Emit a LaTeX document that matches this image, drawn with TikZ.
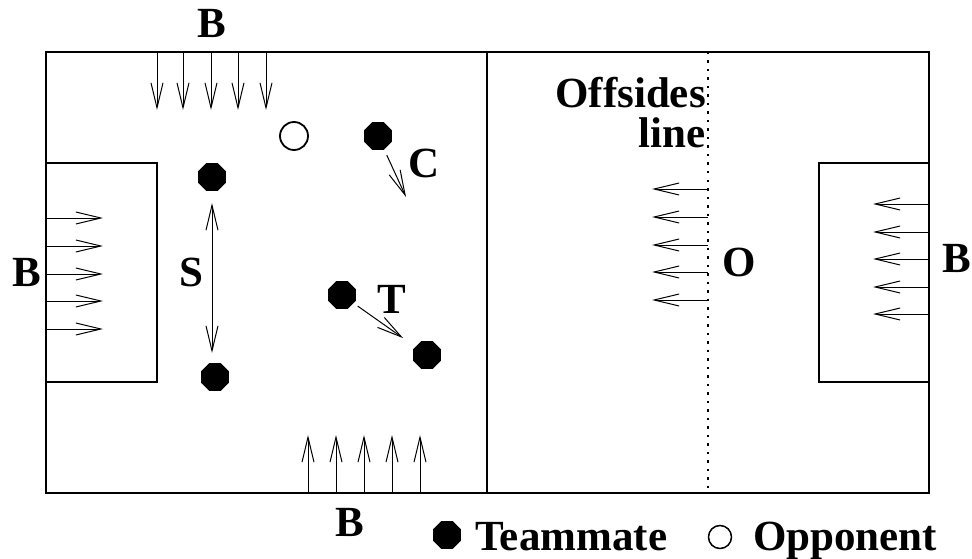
\documentclass[tikz,border=0pt]{standalone}
\usepackage{fontspec}
\setmainfont{Liberation Serif}
\usetikzlibrary{arrows.meta,shapes.geometric}
\begin{document}
\begin{tikzpicture}[x=1pt,y=-1pt,
  frame/.style={line width=2.2pt},
  arr/.style={line width=1pt,-{Straight Barb[length=25pt,width=12pt]}},
  arrboth/.style={line width=1pt,{Straight Barb[length=25pt,width=12pt]}-{Straight Barb[length=25pt,width=12pt]}},
  dot/.style={regular polygon,regular polygon sides=8,fill=black,minimum size=30pt,inner sep=0pt},
  opp/.style={circle,draw,line width=1.8pt,minimum size=28pt,inner sep=0pt},
  lbl/.style={font=\bfseries\fontsize{43}{47}\selectfont,inner sep=0pt}]
\useasboundingbox (0,0) rectangle (972,559);
% field
\draw[frame] (46,52) rectangle (929,493);
\draw[frame] (487,52) -- (487,493);
\draw[frame] (46,163) rectangle (157,382);
\draw[frame] (819,163) rectangle (929,382);
\draw[line width=1.2pt, dash pattern=on 2.5pt off 6pt] (708,52) -- (708,493);
% boundary arrows
\foreach \x in {157,183,211,238,266} \draw[arr] (\x,52) -- (\x,110);
\foreach \x in {308,336,364,392,420} \draw[arr] (\x,493) -- (\x,435);
\foreach \y in {218,246,274,301,329} \draw[arr] (46,\y) -- (103,\y);
\foreach \y in {189,217,245,272,300} \draw[arr] (708,\y) -- (652,\y);
\foreach \y in {204,232,259,287,314} \draw[arr] (929,\y) -- (873,\y);
% players
\node[dot] (s1) at (212,177) {};
\node[dot] (s2) at (215,377) {};
\node[dot] (c1) at (378,136) {};
\node[opp] (o1) at (294,136) {};
\node[dot] (t1) at (342,295) {};
\node[dot] (t2) at (427,355) {};
\coordinate (c2) at (406,197);
\coordinate (s3) at (212,377);
\draw[arrboth, shorten <=12pt, shorten >=24pt] (s1) -- (s3);
\draw[arr, shorten <=6pt] (c1) -- (c2);
\draw[arr, shorten <=5pt, shorten >=15pt] (t1) -- (t2);
% labels
\node[lbl] (bt) at (212,23) {B};
\node[lbl] (bl) at (27,272) {B};
\node[lbl] (bb) at (350,522) {B};
\node[lbl] (br) at (957,258) {B};
\node[lbl] (ls) at (191,272) {S};
\node[lbl] (lc) at (424,163) {C};
\node[lbl] (lt) at (392,299) {T};
\node[lbl] (lo) at (739,262) {O};
\node[lbl,anchor=base east] (off1) at (706,108) {Offsides};
\node[lbl,anchor=base east] (off2) at (706,148) {line};
% legend
\node[dot] (ld) at (447,535) {};
\node[lbl,anchor=base west] (ltm) at (475,550) {Teammate};
\node[opp,minimum size=23pt,line width=1.5pt] (lod) at (720,537) {};
\node[lbl,anchor=base west] (lop) at (753,550) {Opponent};
\end{tikzpicture}
\end{document}
